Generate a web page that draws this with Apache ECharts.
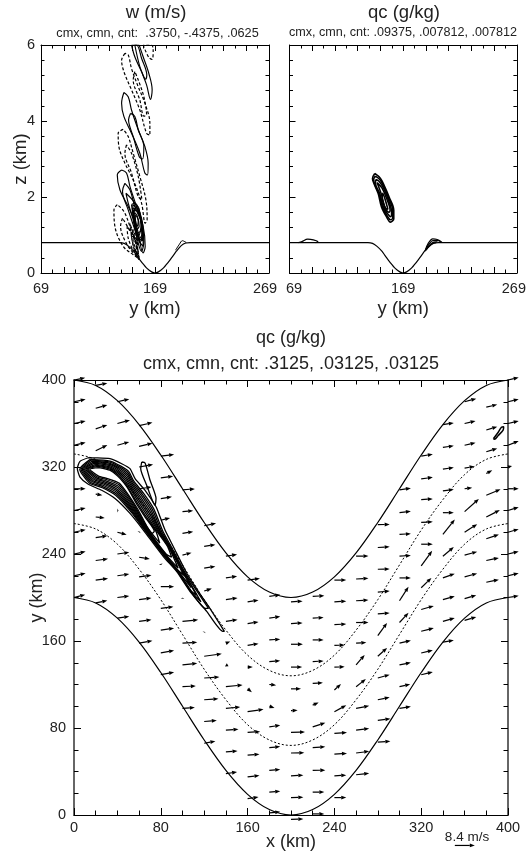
<!DOCTYPE html>
<html><head><meta charset="utf-8">
<style>html,body{margin:0;padding:0;background:#fff}#c{width:529px;height:856px}</style>
<script src="https://cdn.jsdelivr.net/npm/echarts@6/dist/echarts.min.js"></script>
</head><body><div id="c"></div>
<script>
// ---------- top panels: terrain (y km, z km)
const terrain=[[69,.8],[138,.8],[142,.78],[146,.7],[150,.58],[154,.42],[158,.26],[162,.12],[166,.03],[169,0],[172,.03],[176,.12],[180,.26],[184,.42],[188,.58],[192,.72],[196,.79],[200,.8],[269,.8]];
// w contours, solid (positive)
const wSolid=[
[[141.7,4.75],[139.7,4.47],[141.7,4.12],[148.4,3.68],[155.7,3.15],[160.1,2.63],[162.4,2.58],[163,2.89],[160.1,3.33],[154.3,3.77],[148.4,4.29],[145.5,4.64]],
[[147.5,4.2],[145.8,4.03],[149.9,3.59],[155.2,3.06],[158,3],[159.2,3.33],[154.3,3.77],[151.3,4.12]],
[[148.4,6],[151.3,5.69],[157.2,5.3],[160.7,5.1],[161.8,5.21],[157.2,5.65],[152.8,6]],
[[155.1,6],[158.6,5.69],[163.6,5.25],[166.5,4.82],[165,4.57],[161.6,4.95],[155.7,5.43],[151.3,6]],
[[139.7,2.71],[135.9,2.58],[138.2,2.19],[145.5,1.75],[152.8,1.23],[158.6,.53],[160.4,.7],[158.6,1.23],[152.8,1.75],[147,2.28],[144,2.63]],
[[142.6,2.36],[140.5,2.15],[145.5,1.66],[151.3,1.14],[157.2,.57],[159.2,.83],[157.2,1.31],[151.3,1.75],[147,2.19]],
[[143.5,2.1],[145.5,1.84],[149.9,1.4],[154.3,.88],[158,1.05],[155.7,1.49],[151.3,1.84]],
[[148.4,1.8],[149.9,1.5],[153.4,1.05],[157.2,1.14],[155.7,1.58],[151.3,1.84]],
[[149.3,1.71],[151.3,1.23],[154.3,.96],[156.9,1.31],[152.8,1.66]],
[[150.5,1.58],[152.8,1.14],[155.1,1.23],[153.1,1.53]],
[[151.3,1.49],[153.4,1.23],[154.3,1.36],[152.2,1.51]],
[[149.5,1.8],[151,1.3],[155,.85],[158.6,.7],[158.6,1.1],[155.5,1.6]],
[[150,1.65],[152,1.2],[155.5,.9],[158,.85],[157.5,1.2],[154.5,1.6]],
[[151,1.7],[153,1.1],[156,.8],[157.5,1],[156.5,1.4],[154,1.75]],
];
const wOpen=[[187,.6],[190.5,.76],[193,.85],[196.5,.8]];
// w contours, dashed (negative)
const wDashed=[
[[158.6,6],[163.6,5.67],[166.5,5.62],[167.4,5.87],[165.9,6]],
[[142.6,5.78],[139.7,5.6],[141.7,5.3],[148.4,4.82],[155.7,4.29],[161.6,3.68],[164.5,3.63],[164.5,3.94],[160.1,4.47],[154.3,4.9],[148.4,5.38],[145.5,5.74]],
[[151.3,5.3],[149.9,5.08],[155.7,4.55],[159.2,4.13],[161.6,4.16],[159.2,4.64],[154.3,5.08]],
[[141.1,3.78],[136.7,3.68],[137.3,3.33],[142.6,2.89],[149.9,2.45],[157.2,1.84],[160.4,1.31],[162.1,1.4],[161,1.93],[155.7,2.54],[149.9,3.15],[145.5,3.59]],
[[144,3.37],[142.6,3.15],[148.4,2.63],[154.3,2.01],[157.5,1.93],[154.3,2.54],[148.4,3.15]],
[[135.9,1.8],[133,1.66],[133.8,1.23],[141.1,.7],[149.9,.48],[155.1,.37],[153.4,.66],[147,1.23],[141.7,1.62]],
[[140.5,1.44],[138.8,1.23],[144.6,.74],[152.8,.44],[152.8,.7],[146.4,1.14]],
[[144.6,1.23],[145.5,.92],[151.3,.57],[152.8,.74],[148.4,1.05]],
[[148.4,.96],[150.5,.66],[152.8,.53],[153.4,.79],[150.5,.96]],
[[147,1.3],[149,.85],[152,.5],[155,.35],[154,.6],[151,.95]],
[[149.5,1.15],[151,.75],[153.5,.42],[153.8,.7],[151.5,1]],
];
// qc contours, meridional section
const qcSection=[
[[144,2.62],[142,2.49],[143.2,2.36],[147,2.09],[149.9,1.74],[154.3,1.48],[157.8,1.34],[160.7,1.43],[160.7,1.65],[156.6,2],[152.8,2.27],[149,2.49]],
[[144.5,2.55],[143,2.47],[144,2.33],[147.8,2.08],[150.7,1.74],[155,1.5],[157.8,1.4],[159.8,1.45],[159.8,1.65],[155.8,2],[152,2.27],[148.5,2.46]],
[[144.8,2.46],[144.6,2.36],[148.5,2.08],[151.5,1.74],[155.5,1.55],[158,1.48],[158.8,1.6],[155,2],[151,2.27],[147.5,2.42]],
[[146,2.38],[150,2.05],[153,1.72],[156.5,1.6],[157.5,1.65],[154.2,1.98],[150.3,2.24]],
[[150.5,1.95],[153.5,1.7],[155.5,1.68],[153,1.95],[151,2.1]],
];
const qcOpen=[
[[77,.8],[80,.83],[85,.89],[90,.87],[94,.82],[92,.8]],
[[188,.57],[191,.78],[195,.9],[199,.88],[203,.81]],
[[188.5,.6],[192,.77],[195,.85],[200,.85],[202,.81]],
[[189,.6],[192,.72],[195,.8],[199,.82]],
[[189,.6],[192,.7],[195,.77],[198,.8]],
];
// ---------- bottom panel: channel walls (x km, y km)
const wallX=[0,20,40,60,80,100,120,140,160,180,200,220,240,260,280,300,320,340,360,380,400];
const wallLow=[200,195,181,159,131,100,69,41,19,5,0,5,19,41,69,100,131,159,181,195,200];
const wallHigh=[400,395,381,359,331,300,269,241,219,205,200,205,219,241,269,300,331,359,381,395,400];
const dashLow=[268,263,249,226,198,166,134,106,83,69,64,69,83,106,134,166,198,226,249,263,268];
const dashHigh=[332,327,313,290,262,230,198,170,147,133,128,133,147,170,198,230,262,290,313,327,332];
// qc contours, horizontal section
const qcPlan=[
[[13.2,328.5],[5.5,325.2],[3.1,318.5],[5.5,310.8],[13.2,304.1],[25.5,298.6],[37.8,291],[51.6,277.3],[63.9,262],[82.4,237.6],[94.7,223.8],[107,205.5],[122.3,187.2],[137.1,168.9],[138.6,168.9],[127,187.2],[114.7,205.5],[103.9,222.3],[91.6,246.7],[83.9,262],[79.3,274.2],[75.6,283.4],[65.5,298.6],[56.3,309.3],[51.6,318.5],[44,323],[33.2,327.6]],
[[62.4,324.6],[65.5,323.7],[70.1,307.8],[75.6,291],[74.7,284.9],[67,303.2],[61.5,318.5]],
[[15,327],[5.3,318],[14.4,305],[26.1,300.9],[38.6,293.8],[52.9,278.3],[64.5,262.8],[83,238.2],[95.1,224.2],[107.4,205.9],[121,190],[124,190],[102.7,222.2],[90.1,246],[81.9,261],[73.5,281.5],[64,295.9],[55,307.2],[50.5,315.8],[43.2,320.8],[33.2,325.5]],
[[16,326.5],[6.5,318],[15.5,305.8],[26.4,302],[39,295.2],[53.6,278.8],[64.8,263.2],[83.3,238.5],[95.3,224.4],[107.6,206.1],[117,196],[102.1,222.2],[89.3,245.6],[80.9,260.5],[72.4,280.6],[63.2,294.5],[54.4,306.2],[49.9,314.5],[42.8,319.7],[33.1,324.4]],
[[17,325.5],[7.6,318],[16.6,306.6],[26.7,303.2],[39.4,296.6],[54.2,279.3],[65.1,263.6],[83.6,238.8],[95.5,224.6],[107.8,206.3],[113,202],[101.5,222.2],[88.6,245.2],[79.9,260],[71.4,279.6],[62.5,293.2],[53.8,305.2],[49.4,313.1],[42.4,318.6],[33.1,323.4]],
[[18,324.5],[8.7,318],[17.7,307.4],[27,304.4],[39.8,298],[54.9,279.8],[65.4,264],[83.9,239.1],[95.7,224.8],[108,209],[101,222.1],[88.3,247],[79,261.3],[70.3,278.7],[61.7,291.8],[53.1,304.2],[48.8,311.8],[42,317.5],[33.1,322.3]],
[[19,323.5],[9.8,318],[18.8,308.2],[27.3,305.5],[40.2,299.4],[55.5,280.3],[65.7,264.4],[84.2,239.4],[95.9,225],[103,219],[100.4,222.1],[87.5,247],[78.2,261],[69.2,277.8],[61,290.4],[52.5,303.1],[48.2,310.4],[41.6,316.4],[33.1,321.2]],
[[20,322.5],[10.9,318],[19.9,309],[27.6,306.6],[40.6,300.8],[56.2,280.8],[66,264.8],[84.5,239.7],[96,227],[87,247],[77.3,261],[68.2,276.8],[60.2,289],[51.9,302.1],[47.7,309],[41.2,315.3],[33.1,320.2]],
[[21,321.5],[12,318],[21,309.8],[27.9,307.8],[41,302.2],[56.8,281.3],[66.3,265.2],[84.8,240],[90,237],[86.2,247],[76.3,261],[67.1,275.9],[59.5,287.7],[51.3,301.1],[47.1,307.7],[40.8,314.2],[33,319.1]],
[[22,320.5],[13,318],[22,310.6],[28.2,309],[41.4,303.6],[57.5,281.8],[66.6,265.6],[79,250],[75.4,261],[66,275],[58.7,286.4],[50.6,300],[46.6,306.4],[40.4,313.1],[33,318]],
[[23,319.5],[14.5,318],[23,311.4],[28.5,310.1],[41.8,305],[58.1,282.3],[66.9,266],[72,259],[74,261],[65.5,274],[58,285.5],[50.5,299],[46,305.5],[40,312],[33,317]],
];
// wind vectors by column x: [y km, u m/s, v m/s]
const windColumns={
0:[[400,4.7,.9],[380,4.9,1],[360,4.9,1],[340,4.9,1.2],[300,4.9,0],[280,4.9,1],[260,4.9,1.1],[240,4.9,1],[220,4.9,1],[200,4.7,1.2]],
20:[[395,4.9,.9],[374,4.9,1.4],[355,4.9,1.7],[335,4.9,2.4],[295,2.8,-.4],[274,3.8,-.4],[255,4.9,.8],[234,5.2,.7],[216,5.2,.7],[195,4.9,1]],
40:[[380,5,1.1],[360,5.3,1.4],[340,5,1.4],[280,.4,0],[260,3.9,-1],[240,5,.7],[220,5,.7],[200,5,.6],[181,5,.7]],
60:[[358,5.6,1.3],[339,5.6,1.3],[320,5.9,1],[300,5.2,.7],[260,.2,.3],[237,4.5,-.7],[219,5.2,.7],[198,5.2,.7],[178,5.2,.7],[158,5.6,1]],
80:[[330,5.6,.7],[310,5.2,.7],[291,4.7,.7],[271,3.9,1],[231,.1,-.5],[210,5.6,0],[190,5.3,.7],[170,5.6,.8],[149,5.6,1],[129,5.6,1]],
100:[[299,5.2,.4],[279,4.5,.4],[259,4.5,.7],[239,3.8,1],[199,.1,.4],[178,6.6,.7],[158,6.2,.4],[138,6.2,.7],[118,5.6,.3],[98,5.2,.4]],
120:[[266,5,1],[247,4.7,.7],[227,4.7,.7],[206,3.2,1],[168,.1,.2],[146,7.4,1],[126,6.4,.4],[106,6,.4],[86,5.3,.4],[66,4.7,.8]],
140:[[238,4.7,.7],[218,4.7,.7],[198,4.9,.7],[178,4.9,.7],[158,1.8,.7],[138,1.1,-.6],[118,7,.7],[98,6,.6],[78,5.3,.4],[58,4.9,.4],[38,4.7,.7]],
160:[[216,5.2,.7],[196,4.6,.7],[176,4.6,.7],[156,4.6,.7],[136,2.2,0],[116,1.8,-1.4],[95,6.7,1],[76,5.3,.3],[55,5,.4],[35,5,.6],[15,4.6,.7]],
180:[[201,4.6,.7],[181,4.6,.7],[161,4.6,.3],[141,4.6,.4],[120,2.9,-.3],[100,2.2,-.7],[81,4.6,.7],[62,4.6,.4],[41,4.6,.4],[21,4.6,.4],[2,4.6,.4]],
200:[[196,4.9,.3],[176,4.9,.3],[157,5,0],[136,4.7,0],[116,4.2,0],[96,2.8,.1],[76,5.9,.1],[57,5.6,.1],[36,5.2,.3],[16,5.2,.1],[-4,5.2,.1]],
220:[[201,4.9,.3],[181,4.6,.3],[161,4.6,0],[141,4.6,.3],[121,4.3,.3],[101,2.5,1.1],[81,5.3,1.7],[62,5.3,.3],[41,5.3,.1],[21,4.9,.1],[1,4.9,0]],
240:[[216,5,0],[196,5,.3],[175,5,.3],[156,4.3,.1],[136,4.3,.1],[115,2.8,2.5],[95,5,2.7],[75,5.3,.4],[56,5.3,.3],[36,5,.3],[16,5,0]],
260:[[238,5.2,.1],[217,5.2,.3],[197,5.2,.3],[177,5.2,0],[158,4.3,.3],[138,3.6,4.2],[118,4.1,3.2],[98,5.5,1.1],[78,5.5,.7],[57,5.5,.7],[37,5.5,.6]],
280:[[267,5,.1],[246,5,.3],[226,5,.1],[205,5,.4],[185,5,.3],[165,3.9,5.3],[146,3.9,3.5],[126,5,1.4],[106,5,1],[87,5.3,.7],[67,5.3,.4]],
300:[[299,4.8,.7],[278,4.8,.6],[258,4.8,.3],[238,4.8,.3],[218,4.8,0],[197,3.8,5.9],[177,3.8,4.1],[158,4.8,1.1],[138,4.8,1],[118,4.5,1],[98,4.8,.8]],
320:[[330,4.9,.8],[309,4.9,.7],[290,4.9,.3],[269,4.9,.3],[249,4.9,0],[229,4.6,6.4],[209,4.3,4.1],[189,5.3,1.5],[169,5.3,1.3],[149,4.9,1.1],[129,4.9,1.1]],
340:[[359,4.6,.7],[338,4.6,.7],[318,4.6,.7],[298,4.6,.6],[278,4.6,0],[258,5,6.3],[238,4.6,3.8],[218,5,1.8],[198,5,1.4],[178,5,1.4],[159,4.6,.8]],
360:[[380,4.9,1.3],[360,4.6,1.1],[340,4.6,1.1],[319,4.2,.7],[300,3.2,.4],[279,6,5.3],[260,5.3,3.4],[239,5.3,1.4],[219,5.3,1.4],[199,4.9,1.4],[179,4.9,1.4]],
380:[[375,4.6,1.1],[354,4.6,1.4],[334,4.6,1.4],[314,2.5,1.4],[294,6,2.5],[274,5.7,2.9],[254,5.3,1.8],[234,5.3,1.1],[214,5.3,1.1]],
400:[[400,4.5,1.1],[380,4.5,1],[360,4.5,1.1],[340,4.5,1.8],[320,1.7,.4],[300,4.5,0],[280,4.5,1.4],[260,4.5,1.3],[240,4.5,1],[220,4.5,1],[200,4.5,.7]]
};
const refVector=[351,-28,8.4,0];
// small closed contour in the upper-right corner of the plan view
const qcPlanCorner=[[386.5,346],[391,352],[394,356.5],[396,357],[395.5,354],[391,349],[387.5,345.5]];
const kmPerMs=2.19;

const FONT='"Liberation Sans",Arial,sans-serif', TXT='#222';
const close=a=>a.concat([a[0]]);
function lineS(data,g,o={}){return {type:'line',xAxisIndex:g,yAxisIndex:g,data,showSymbol:false,symbol:'none',smooth:o.smooth===undefined?0.35:o.smooth,clip:true,silent:true,animation:false,
 lineStyle:{color:'#000',width:o.w||1,type:o.dash||'solid'},z:o.z||3};}
const series=[];
series.push(lineS(terrain,0,{smooth:.2,w:1.2}));
series.push(lineS(terrain,1,{smooth:.2,w:1.2}));
wSolid.forEach(c=>series.push(lineS(close(c),0,{w:1.15})));
series.push(lineS(wOpen,0));
wDashed.forEach(c=>series.push(lineS(close(c),0,{dash:[3,2],w:1.2})));
qcSection.forEach(c=>series.push(lineS(close(c),1,{w:1.6})));
qcOpen.forEach(c=>series.push(lineS(c,1,{w:1.2})));
const zip=(a,b)=>a.map((v,i)=>[v,b[i]]);
series.push(lineS(zip(wallX,wallLow),2,{w:1.2}));
series.push(lineS(zip(wallX,wallHigh),2,{w:1.2}));
series.push(lineS(zip(wallX,dashLow),2,{dash:[2,2],w:1}));
series.push(lineS(zip(wallX,dashHigh),2,{dash:[2,2],w:1}));
qcPlan.forEach(c=>series.push(lineS(close(c),2,{w:1.3,smooth:.2})));
series.push(lineS(close(qcPlanCorner),2,{w:1.5}));
const wind=[];
Object.keys(windColumns).forEach(x=>windColumns[x].forEach(r=>wind.push([+x,r[0],r[1],r[2]])));
wind.push(refVector);
series.push({type:'custom',xAxisIndex:2,yAxisIndex:2,data:wind,clip:false,silent:true,animation:false,z:4,encode:{x:0,y:1},
 renderItem(p,api){
  const a=api.coord([api.value(0),api.value(1)]);
  const b=api.coord([api.value(0)+api.value(2)*kmPerMs,api.value(1)+api.value(3)*kmPerMs]);
  const dx=b[0]-a[0],dy=b[1]-a[1],L=Math.hypot(dx,dy)||1,ux=dx/L,uy=dy/L,h=Math.min(5,L),w=1.9;
  const c=[b[0]-ux*h,b[1]-uy*h];
  return {type:'group',children:[
   {type:'line',shape:{x1:a[0],y1:a[1],x2:c[0],y2:c[1]},style:{stroke:'#000',lineWidth:1.2}},
   {type:'polygon',shape:{points:[b,[c[0]-uy*w,c[1]+ux*w],[c[0]+uy*w,c[1]-ux*w]]},style:{fill:'#000'}}
  ]};
 }});

function xA(g,min,max,iv,split,pos,lab,extra={}){return Object.assign({type:'value',gridIndex:g,min,max,interval:iv,position:pos,
  axisLine:{show:true,onZero:false,lineStyle:{color:'#000',width:1}},
  axisTick:{show:true,inside:true,length:g==2?7:6,lineStyle:{color:'#000',width:1}},
  minorTick:{show:true,splitNumber:split,length:g==2?4.5:3.5,lineStyle:{color:'#000',width:1}},
  splitLine:{show:false},minorSplitLine:{show:false},
  axisLabel:lab?{show:true,color:TXT,fontFamily:FONT,fontSize:14.5,margin:8,hideOverlap:false,showMinLabel:true,showMaxLabel:true,formatter:lab===true?'{value}':lab,
   rich:{r8:{padding:[0,8,0,0],color:TXT,fontFamily:FONT,fontSize:14.5},r6:{padding:[0,6,0,0],color:TXT,fontFamily:FONT,fontSize:14.5},l9:{padding:[0,0,0,9],color:TXT,fontFamily:FONT,fontSize:14.5}}}:{show:false}},extra);}
const labelsW=v=>v===69?'69':v===169?'169':v===269?'{r8|269}':'';
const labelsQ=v=>v===69?'{l9|69}':v===169?'169':v===269?'{r6|269}':'';
const nm=(name,gap,rot,fs)=>({name,nameLocation:'middle',nameGap:gap,nameRotate:rot,nameMoveOverlap:false,nameTextStyle:{color:TXT,fontFamily:FONT,fontSize:fs||18.5}});
const thick={axisLine:{show:true,onZero:false,lineStyle:{color:'#666',width:2}}};
const ttl=(text,left,top,fontSize)=>({text,left,top,textAlign:'center',padding:0,textStyle:{color:TXT,fontFamily:FONT,fontSize,fontWeight:'normal'}});
const option={
 animation:false,backgroundColor:'#fff',
 title:[
  ttl('w (m/s)',156,3,18.5),
  ttl('cmx, cmn, cnt:  .3750, -.4375, .0625',157.5,26.5,12.7),
  ttl('qc (g/kg)',404,3,18.5),
  ttl('cmx, cmn, cnt: .09375, .007812, .007812',403,25.7,12.6),
  ttl('qc (g/kg)',291,329,18),
  ttl('cmx, cmn, cnt: .3125, .03125, .03125',291,355,18),
  ttl('8.4 m/s',467,830,13.5)
 ],
 grid:[{left:41,top:45,width:228,height:228},{left:289.5,top:45,width:228.5,height:228},{left:74,top:380,width:434,height:436}],
 xAxis:[
  xA(0,69,269,20,2,'bottom',labelsW,nm('y (km)',26)),
  xA(1,69,269,20,2,'bottom',labelsQ,nm('y (km)',26)),
  xA(2,0,400,80,4,'bottom',true,nm('x (km)',18,undefined,18)),
  xA(0,69,269,20,2,'top',false),xA(1,69,269,20,2,'top',false),xA(2,0,400,80,4,'top',false)
 ],
 yAxis:[
  xA(0,0,6,2,5,'left',true,nm('z (km)',11,90)),
  xA(1,0,6,2,5,'left',false),
  xA(2,0,400,80,4,'left',true,Object.assign(nm('y (km)',28,90,18),thick)),
  xA(0,0,6,2,5,'right',false),xA(1,0,6,2,5,'right',false),xA(2,0,400,80,4,'right',false,thick)
 ],
 series
};
option.xAxis[2].axisLabel={show:true,color:TXT,fontFamily:FONT,fontSize:14.5,margin:5};
option.yAxis[2].axisLabel={show:true,color:TXT,fontFamily:FONT,fontSize:14.5,margin:8};
option.yAxis[0].axisLabel.margin=6;
const chart=echarts.init(document.getElementById('c'),null,{renderer:'canvas'});
chart.setOption(option);
</script></body></html>
